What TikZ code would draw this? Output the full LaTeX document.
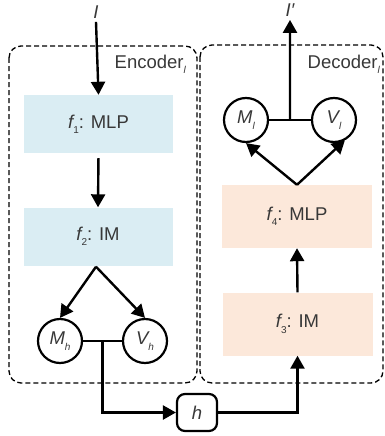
\documentclass[tikz,border=0pt]{standalone}
\usepackage{fontspec}
\setmainfont{Liberation Sans}
\usetikzlibrary{arrows.meta,calc}
\definecolor{txt}{HTML}{383838}
\definecolor{encblue}{HTML}{DAEDF3}
\definecolor{decpeach}{HTML}{FCE8DA}
\newcommand{\sbs}[1]{\raisebox{-0.55ex}{\fontsize{10}{10}\selectfont #1}}
\begin{document}
\begin{tikzpicture}[x=1pt,y=-1pt,
  every node/.style={text=txt,font=\fontsize{18.5}{20}\selectfont},
  group/.style={draw,dashed,dash pattern=on 5pt off 3pt,line width=1.3pt,rounded corners=12pt},
  encbox/.style={fill=encblue,minimum width=149pt,minimum height=58pt,inner sep=0pt},
  decbox/.style={fill=decpeach,minimum width=150pt,minimum height=63pt,inner sep=0pt},
  var/.style={draw,circle,line width=2.2pt,minimum size=44pt,inner sep=0pt},
  hbox/.style={draw,rounded corners=8pt,line width=2.2pt,minimum width=40pt,minimum height=37pt,inner sep=0pt},
  conn/.style={line width=2.4pt},
  arr/.style={conn,-{Triangle[length=13pt,width=14pt]}}]
\useasboundingbox (0,0) rectangle (385,436);
% groups
\draw[group] (9,46) rectangle (197,383);
\draw[group] (200,45) rectangle (383,383);
\node[anchor=east,inner sep=0pt] (enclab) at (186,64) {Encoder\sbs{\itshape l}};
\node[anchor=east,inner sep=0pt] (declab) at (380,64) {Decoder\sbs{\itshape l}};
% encoder
\node (I) at (96,12) {\itshape I};
\node[encbox] (f1) at (98.5,124) {\itshape f\sbs{\upshape 1}\upshape: MLP};
\node[encbox] (f2) at (98,236.5) {\itshape f\sbs{\upshape 2}\upshape: IM};
\node[var] (Mh) at (60,341) {\itshape M\sbs{h}};
\node[var] (Vh) at (145,341) {\itshape V\sbs{h}};
% h
\node[hbox] (h) at (197,412.5) {\itshape h};
% decoder
\node[decbox] (f3) at (297.5,324) {\itshape f\sbs{\upshape 3}\upshape: IM};
\node[decbox] (f4) at (297,216.5) {\itshape f\sbs{\upshape 4}\upshape: MLP};
\node[var] (Ml) at (246,120) {\itshape M\sbs{l}};
\node[var] (Vl) at (334,120) {\itshape V\sbs{l}};
\node (Ip) at (290,10) {\itshape I′};
% connectors
\draw[arr] (I.south) -- (f1.north);
\draw[arr,shorten <=5pt] (f1.south) -- (f2.north);
\coordinate (f2b) at ($(f2.south)+(-2,1)$);
\draw[arr] (f2b) -- (Mh.north);
\draw[arr] (f2b) -- (Vh.north);
\draw[conn] (Mh.east) -- (Vh.west);
\coordinate (mhv) at ($(Mh.east)!0.5!(Vh.west)$);
\draw[arr] (mhv) |- (h.west);
\draw[arr] (h.east) -| (f3.south);
\draw[arr] (f3.north) -- (f4.south);
\coordinate (f4t) at (f4.north);
\draw[arr] (f4t) -- (Ml.south);
\draw[arr] (f4t) -- (Vl.-62);
\draw[conn] (Ml.east) -- (Vl.west);
\coordinate (mlv) at ($(Ml.east)!0.5!(Vl.west)$);
\draw[arr] (mlv) -- (Ip.south);
\end{tikzpicture}
\end{document}
